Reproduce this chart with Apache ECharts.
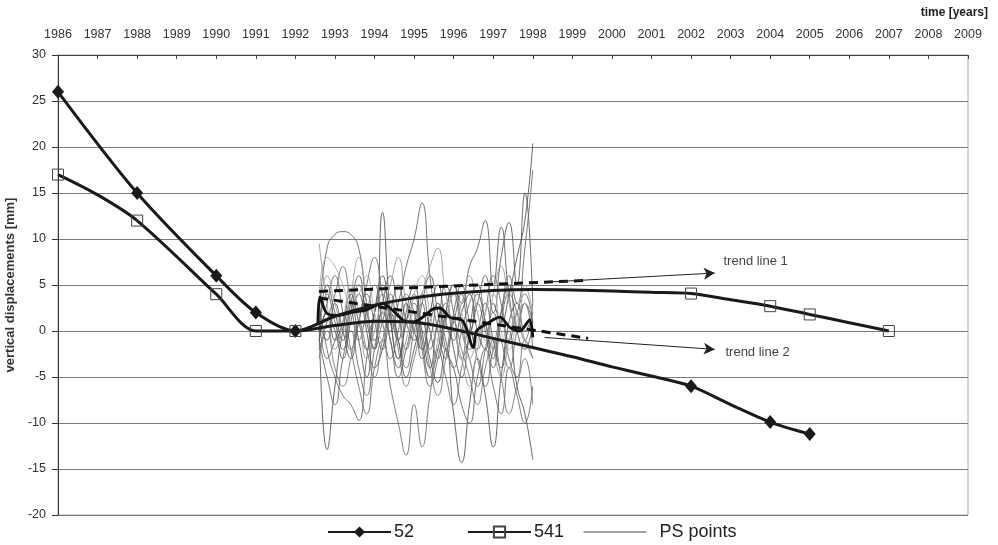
<!DOCTYPE html>
<html><head><meta charset="utf-8">
<script src="https://cdn.jsdelivr.net/npm/echarts@6/dist/echarts.min.js"></script>
<style>html,body{margin:0;padding:0;background:#fff}#c{width:998px;height:545px}</style>
</head><body><div id="c"></div>
<script>
// ---- data ----
const yearMin = 1986, yearMax = 2009;
const yMin = -20, yMax = 30, yStep = 5;

// point 52 (measured epochs, with markers)
const s52Years  = [1986, 1988, 1990, 1991, 1992, 2002, 2004, 2005];
const s52Values = [26, 15, 6, 2, 0, -6.0, -9.9, -11.2];
// curve path of 52 read between epochs (no markers)
const s52PathYears  = [1993, 1994, 1995, 1996, 1997, 1998, 1999, 2000, 2001, 2003];
const s52PathValues = [0.6, 1.05, 0.95, 0.2, -0.8, -1.8, -2.8, -3.9, -4.9, -8.0];

// point 541
const s541Years  = [1986, 1988, 1990, 1991, 1992, 2002, 2004, 2005, 2007];
const s541Values = [17, 12, 4, 0, 0, 4.07, 2.7, 1.8, 0];
const s541PathYears  = [1987, 1993, 1994, 1995, 1996, 1997, 1998, 1999, 2000, 2001, 2003, 2006];
const s541PathValues = [14.8, 1.6, 2.8, 3.6, 4.1, 4.4, 4.5, 4.45, 4.35, 4.2, 3.4, 0.9];

// PS points time series
const psYears = [1992.6, 1992.8, 1993.0, 1993.2, 1993.4, 1993.6, 1993.8, 1994.0, 1994.2, 1994.4,
                 1994.6, 1994.8, 1995.0, 1995.2, 1995.4, 1995.6, 1995.8, 1996.0, 1996.2, 1996.4,
                 1996.6, 1996.8, 1997.0, 1997.2, 1997.4, 1997.6, 1997.8, 1998.0];
const ps01 = [1, -12.9, -6, 0, 3, -1, -5, 2, 6, 1, -3, 2, 5, 0, -4, 1, 3, -2, -5, 0, 4, 1, -3, 2, 5, 0, -2, 1];
const ps02 = [2, 9, 10.5, 10.8, 10.5, 9, 3, -2, 1, 4, -1, -4, 0, 3, -2, 1, 5, 2, -3, -1, 3, 0, -4, 1, 4, 2, -1, 3];
const ps03 = [3, -2, -5, -7, -8, -9.7, -3, 2, 4, -1, -4, 1, 3, -2, -6, -3, 1, 4, 0, -3, -6, -2, 2, -1, -4, 0, 3, -2];
const ps04 = [0, 5, 2, -1, 3, 6, 1, -2, 12.9, 2, -3, 1, 4, -1, -5, -2, 2, 5, 1, -2, 0, 3, -1, -4, 1, 3, 0, 2];
const ps05 = [-1, 3, 6, 2, -2, 1, 5, 8, 4, 0, 3, 7, 10, 13.9, 6, 0, -3, 2, 5, 1, -2, 2, 6, 3, -1, 2, 4, 1];
const ps06 = [2, -3, -1, 2, -2, -6, -9, -4, -1, -6, -10, -13.5, -8, -12.6, -7, -2, -5, -8, -4, 0, -3, -6, -2, 1, -3, -5, -1, -3];
const ps07 = [-1, 2, 0, -3, 1, 4, 0, -4, -2, 2, -1, -5, -2, 1, -3, -5.6, -2, -9, -14.3, -8, -3, -7, -12.6, -5, 0, -6, -9, -14];
const ps08 = [0, 4, 1, -2, 2, 5, 2, -1, 3, 6, 2, -2, 1, 4, 0, -3, 2, 5, 3, 7, 9, 12, 5, 11.3, 4, 0, 3, 1];
const ps09 = [1, -1, 3, 0, -3, 1, 4, 1, -2, 2, 5, 1, -1, 3, 6, 2, -2, 1, 4, 0, 3, 6, 2, 8, 11.8, 5, 15, 3];
const ps10 = [0, 2, -1, 1, 4, 1, -2, 2, 5, 2, -1, 3, 0, -2, 2, 5, 1, -1, 2, 4, 0, -2, 3, 1, 4, 8, 12, 20.4];
const ps11 = [-2, 1, 4, 7, 3, -1, 2, 5, 1, -3, 0, 4, 2, -2, 1, 3, -1, -4, 0, 3, 5, 1, -2, 2, 6, 3, 9, 17.5];
const ps12 = [9.5, 3, -2, 1, 5, 2, -3, 0, 3, -1, -4, -1, 2, -2, -5, -1, 3, 0, -3, -6, -2, 1, -2, -5, -1, 2, -1, -3];
const ps13 = [4, 8, 7, 5, 3, 4, 6, 2, -1, 3, 1, -2, 4, 6, 2, -1, 1, 4, 2, -3, -1, 2, 4, 0, -2, 1, 3, 2];
const ps14 = [-3, 0, -4, -6, -3, 1, -2, -5, -1, 2, -2, -6, -3, 0, -4, -7, -3, 1, -2, -5, -8, -4, -1, -5, -9, -6, -3, -8];
const ps15 = [2, 6, 3, 0, 4, 8, 3, -1, 2, 5, 8, 3, 0, 4, 7, 9, 4, 1, 3, 6, 2, -1, 4, 7, 3, 0, 5, 2];
const ps16 = [-1, -5, -8, -3, 0, -4, -7, -2, 2, -1, -5, -2, 1, -3, -1, 3, -2, -4, -8, -10, -5, -2, -6, -9, -4, -7, -10, -6];
const psAll = [ps01, ps02, ps03, ps04, ps05, ps06, ps07, ps08, ps09, ps10, ps11, ps12, ps13, ps14, ps15, ps16];
const psShade = ['#555', '#666', '#6a6a6a', '#555', '#666', '#707070', '#555', '#606060', '#5a5a5a', '#555', '#6a6a6a', '#999', '#aaa', '#777', '#999', '#666'];

// thick mean PS line
const meanYears  = [1992.57, 1992.62, 1992.8, 1993.1, 1993.4, 1993.8, 1994.2, 1994.47, 1994.82, 1995.0, 1995.48,
                    1995.65, 1995.9, 1996.23, 1996.5, 1996.58, 1996.84, 1997.17, 1997.42, 1997.67, 1997.92, 1998.0];
const meanValues = [0.8, 3.7, 1.9, 1.7, 2.0, 2.3, 3.0, 2.2, 1.0, 1.0, 2.4, 2.5, 1.5, 1.1, -1.8, 0, 0.8, 1.5, 0.4, 0, 1.2, -0.7];

// trend lines
const trend1Years = [1992.6, 1999.4];
const trend1Values = [4.3, 5.5];
const trend2Years = [1992.6, 1999.4];
const trend2Values = [3.6, -0.8];
// annotation arrows [fromYear, fromVal, toYear, toVal]
const arrow1 = [1998.3, 5.3, 2002.6, 6.3];
const arrow2 = [1998.3, -0.7, 2002.6, -2.0];
const note1 = {text: 'trend line 1', year: 2002.82, value: 7.6};
const note2 = {text: 'trend line 2', year: 2002.87, value: -2.3};

// ---- build ----
const FONT = "'Liberation Sans', Arial, sans-serif";
function mergePts(yrs, vals, pYrs, pVals) {
  const pts = yrs.map((y, i) => ({value: [y, vals[i]]}));
  pYrs.forEach((y, i) => pts.push({value: [y, pVals[i]], symbol: 'none'}));
  pts.sort((a, b) => a.value[0] - b.value[0]);
  return pts;
}

const series = [];
psAll.forEach((arr, k) => {
  series.push({
    name: 'PS points', type: 'line', smooth: 0.5, symbol: 'none', z: 2,
    lineStyle: {width: 0.9, color: psShade[k]}, itemStyle: {color: '#555'},
    data: psYears.map((y, i) => [y, arr[i]])
  });
});
series.push({
  name: 'mean', type: 'line', smooth: 0.3, symbol: 'none', z: 4,
  lineStyle: {width: 2.8, color: '#111'},
  data: meanYears.map((y, i) => [y, meanValues[i]])
});
series.push({
  name: 'trend1', type: 'line', symbol: 'none', z: 4,
  lineStyle: {width: 3, color: '#111', type: [9, 6]},
  data: trend1Years.map((y, i) => [y, trend1Values[i]]),
  markLine: {
    silent: true, symbol: ['none', 'arrow'], symbolSize: [9, 11],
    label: {show: false}, lineStyle: {color: '#222', width: 1, type: 'solid'},
    data: [
      [{coord: [arrow1[0], arrow1[1]]}, {coord: [arrow1[2], arrow1[3]]}],
      [{coord: [arrow2[0], arrow2[1]]}, {coord: [arrow2[2], arrow2[3]]}]
    ]
  }
});
series.push({
  name: 'trend2', type: 'line', symbol: 'none', z: 4,
  lineStyle: {width: 3, color: '#111', type: [9, 6]},
  data: trend2Years.map((y, i) => [y, trend2Values[i]])
});
series.push({
  name: '52', type: 'line', smooth: 0.3, z: 5,
  symbol: 'diamond', symbolSize: [12, 14], showAllSymbol: true,
  lineStyle: {width: 3, color: '#1a1a1a'}, itemStyle: {color: '#1a1a1a'},
  data: mergePts(s52Years, s52Values, s52PathYears, s52PathValues)
});
series.push({
  name: '541', type: 'line', smooth: 0.3, z: 5,
  symbol: 'rect', symbolSize: 11, showAllSymbol: true,
  lineStyle: {width: 3, color: '#1a1a1a'},
  itemStyle: {color: 'rgba(255,255,255,0)', borderColor: '#444', borderWidth: 1},
  data: mergePts(s541Years, s541Values, s541PathYears, s541PathValues)
});

const legendBase = {
  orient: 'horizontal', top: 523, itemWidth: 63, itemHeight: 14, itemGap: 0, padding: 0,
  selectedMode: false,
  textStyle: {fontSize: 18, color: '#222', fontFamily: FONT, padding: [0, 0, 0, -2]}
};

const chart = echarts.init(document.getElementById('c'), null, {renderer: 'canvas'});
chart.setOption({
  animation: false,
  backgroundColor: '#fff',
  grid: {left: 58, right: 30, top: 55, bottom: 30, show: true, borderColor: '#aaa', borderWidth: 1,
         containLabel: false, outerBoundsMode: 'none'},
  legend: [
    Object.assign({}, legendBase, {left: 327, data: ['52']}),
    Object.assign({}, legendBase, {left: 467, data: ['541']}),
    Object.assign({}, legendBase, {left: 583, data: [{name: 'PS points', itemStyle: {opacity: 0}, lineStyle: {width: 1, color: '#444'}}],
      textStyle: Object.assign({}, legendBase.textStyle, {padding: [0, 0, 0, 8]})})
  ],
  xAxis: {
    type: 'value', position: 'top', min: yearMin, max: yearMax, interval: 1,
    axisLine: {show: true, onZero: false, lineStyle: {color: '#444', width: 1}},
    axisTick: {show: true, inside: true, length: 4, lineStyle: {color: '#444'}},
    axisLabel: {margin: 14, fontSize: 12.5, color: '#333', fontFamily: FONT, formatter: v => String(v)},
    splitLine: {show: false}
  },
  yAxis: {
    type: 'value', min: yMin, max: yMax, interval: yStep,
    name: 'vertical displacements [mm]', nameLocation: 'middle', nameGap: 35,
    nameTextStyle: {fontSize: 13, fontWeight: 'bold', color: '#333', fontFamily: FONT},
    axisLine: {show: true, onZero: false, lineStyle: {color: '#333', width: 1}},
    axisTick: {show: true, length: 6, lineStyle: {color: '#333'}},
    axisLabel: {margin: 12, fontSize: 12.5, color: '#333', fontFamily: FONT},
    splitLine: {show: true, lineStyle: {color: '#7a7a7a', width: 1}}
  },
  series: series
});

const p1 = chart.convertToPixel({gridIndex: 0}, [note1.year, note1.value]);
const p2 = chart.convertToPixel({gridIndex: 0}, [note2.year, note2.value]);
chart.setOption({
  graphic: [
    {type: 'text', right: 10, top: 7, style: {text: 'time [years]', font: "bold 12px " + FONT, fill: '#222'}},
    {type: 'text', x: p1[0], y: p1[1], style: {text: note1.text, font: "13px " + FONT, fill: '#444', textVerticalAlign: 'middle'}},
    {type: 'text', x: p2[0], y: p2[1], style: {text: note2.text, font: "13px " + FONT, fill: '#444', textVerticalAlign: 'middle'}}
  ]
});
</script>
</body></html>
